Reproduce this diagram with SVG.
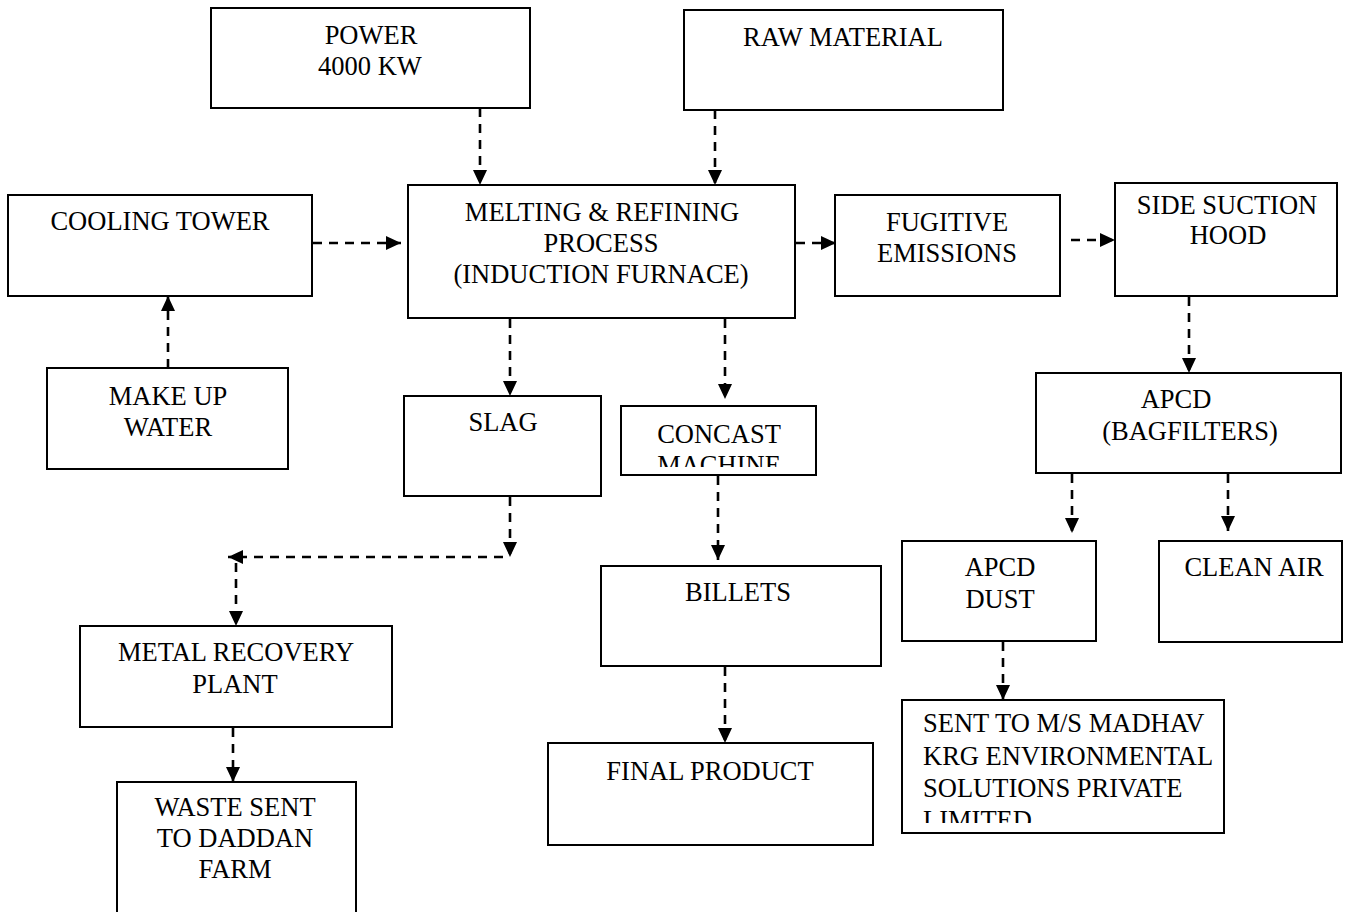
<svg xmlns="http://www.w3.org/2000/svg" width="1360" height="912" viewBox="0 0 1360 912">
<style>
.box{fill:#fff;stroke:#000;stroke-width:2}
.t{font-family:"Liberation Serif","Times New Roman",serif;font-size:26.5px;fill:#000;text-anchor:middle}
.tl{font-family:"Liberation Serif","Times New Roman",serif;font-size:26.5px;fill:#000}
.c{fill:none;stroke:#000;stroke-width:2.6;stroke-dasharray:9 7}
</style>
<defs>
<marker id="ah" markerUnits="userSpaceOnUse" markerWidth="16" markerHeight="16" viewBox="0 0 16 16" refX="15" refY="8" orient="auto">
<path d="M0,1 L15,8 L0,15 Z" fill="#000"/>
</marker>
<clipPath id="cc"><rect x="622" y="407" width="193" height="60"/></clipPath>
<clipPath id="cs"><rect x="903" y="701" width="320" height="122"/></clipPath>
</defs>
<rect width="1360" height="912" fill="#fff"/>
<g id="connectors">
<path class="c" d="M480,108 V185" marker-end="url(#ah)"/>
<path class="c" d="M715,110 V185" marker-end="url(#ah)"/>
<path class="c" d="M313,243 H401" marker-end="url(#ah)"/>
<path class="c" d="M168,368 V296" marker-end="url(#ah)"/>
<path class="c" d="M796,243 H836" marker-end="url(#ah)"/>
<path class="c" d="M1071,240 H1115" marker-end="url(#ah)"/>
<path class="c" d="M1189,297 V373" marker-end="url(#ah)"/>
<path class="c" d="M1072,474 V533" marker-end="url(#ah)"/>
<path class="c" d="M1228,474 V531" marker-end="url(#ah)"/>
<path class="c" d="M1003,642 V700" marker-end="url(#ah)"/>
<path class="c" d="M510,319 V396" marker-end="url(#ah)"/>
<path class="c" d="M725,319 V399" marker-end="url(#ah)"/>
<path class="c" d="M510,497 V557" marker-end="url(#ah)"/>
<path class="c" d="M503,557 H228" marker-end="url(#ah)"/>
<path class="c" d="M236,563 V626" marker-end="url(#ah)"/>
<path class="c" d="M233,728 V782" marker-end="url(#ah)"/>
<path class="c" d="M718,476 V560" marker-end="url(#ah)"/>
<path class="c" d="M725,667 V743" marker-end="url(#ah)"/>
</g>
<g id="power"><rect class="box" x="211" y="8" width="319" height="100"/>
<text class="t" x="371" y="44">POWER</text><text class="t" x="370" y="75">4000 KW</text></g>
<g id="raw-material"><rect class="box" x="684" y="10" width="319" height="100"/>
<text class="t" x="843" y="46">RAW MATERIAL</text></g>
<g id="melting"><rect class="box" x="408" y="185" width="387" height="133"/>
<text class="t" x="602" y="221">MELTING &amp; REFINING</text>
<text class="t" x="601" y="252">PROCESS</text>
<text class="t" x="601" y="283">(INDUCTION FURNACE)</text></g>
<g id="cooling-tower"><rect class="box" x="8" y="195" width="304" height="101"/>
<text class="t" x="160" y="230">COOLING TOWER</text></g>
<g id="make-up-water"><rect class="box" x="47" y="368" width="241" height="101"/>
<text class="t" x="168" y="405">MAKE UP</text><text class="t" x="168" y="436">WATER</text></g>
<g id="fugitive"><rect class="box" x="835" y="195" width="225" height="101"/>
<text class="t" x="947" y="231">FUGITIVE</text><text class="t" x="947" y="262">EMISSIONS</text></g>
<g id="side-suction"><rect class="box" x="1115" y="183" width="222" height="113"/>
<text class="t" x="1227" y="214">SIDE SUCTION</text><text class="t" x="1228" y="244">HOOD</text></g>
<g id="apcd"><rect class="box" x="1036" y="373" width="305" height="100"/>
<text class="t" x="1176" y="408">APCD</text><text class="t" x="1190" y="440">(BAGFILTERS)</text></g>
<g id="apcd-dust"><rect class="box" x="902" y="541" width="194" height="100"/>
<text class="t" x="1000" y="576">APCD</text><text class="t" x="1000" y="608">DUST</text></g>
<g id="clean-air"><rect class="box" x="1159" y="541" width="183" height="101"/>
<text class="t" x="1254" y="576">CLEAN AIR</text></g>
<g id="sent-to"><rect class="box" x="902" y="700" width="322" height="133"/>
<g clip-path="url(#cs)">
<text class="tl" x="923" y="732">SENT TO M/S MADHAV</text>
<text class="tl" x="923" y="765">KRG ENVIRONMENTAL</text>
<text class="tl" x="923" y="797">SOLUTIONS PRIVATE</text>
<text class="tl" x="923" y="829">LIMITED</text></g></g>
<g id="slag"><rect class="box" x="404" y="396" width="197" height="100"/>
<text class="t" x="503" y="431">SLAG</text></g>
<g id="concast"><rect class="box" x="621" y="406" width="195" height="69"/>
<g clip-path="url(#cc)">
<text class="t" x="719" y="443">CONCAST</text><text class="t" x="719" y="474">MACHINE</text></g></g>
<g id="metal-recovery"><rect class="box" x="80" y="626" width="312" height="101"/>
<text class="t" x="236" y="661">METAL RECOVERY</text><text class="t" x="235" y="693">PLANT</text></g>
<g id="waste-sent"><rect class="box" x="117" y="782" width="239" height="140"/>
<text class="t" x="235" y="816">WASTE SENT</text><text class="t" x="235" y="847">TO DADDAN</text><text class="t" x="235" y="878">FARM</text></g>
<g id="billets"><rect class="box" x="601" y="566" width="280" height="100"/>
<text class="t" x="738" y="601">BILLETS</text></g>
<g id="final-product"><rect class="box" x="548" y="743" width="325" height="102"/>
<text class="t" x="710" y="780">FINAL PRODUCT</text></g>
</svg>
